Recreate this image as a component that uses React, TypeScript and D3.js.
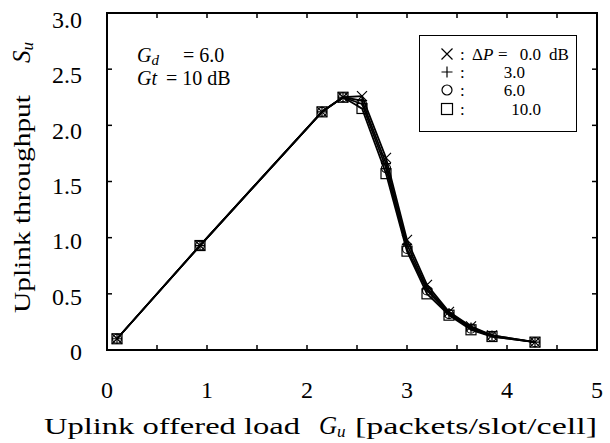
import React from 'react';
import * as d3 from 'd3';

// offered load G_u (shared) and throughput S_u for each delta P
const gu = [0.1, 0.93, 2.15, 2.36, 2.55, 2.79, 3.0, 3.2, 3.42, 3.64, 3.85, 4.28];
const su0 = [0.1, 0.93, 2.12, 2.25, 2.26, 1.71, 0.98, 0.58, 0.34, 0.21, 0.13, 0.07];
const su3 = [0.1, 0.93, 2.12, 2.25, 2.22, 1.66, 0.94, 0.55, 0.33, 0.2, 0.13, 0.07];
const su6 = [0.1, 0.93, 2.12, 2.25, 2.19, 1.62, 0.9, 0.53, 0.32, 0.19, 0.12, 0.07];
const su10 = [0.1, 0.93, 2.12, 2.25, 2.15, 1.57, 0.88, 0.5, 0.31, 0.18, 0.12, 0.07];

const xTickLabels = [0, 1, 2, 3, 4, 5];
const yTickLabels = ['0', '0.5', '1.0', '1.5', '2.0', '2.5', '3.0'];
const legendVals = ['0.0', '3.0', '6.0', '10.0'];

const font = "'Liberation Serif', 'Times New Roman', serif";

const Marker = ({ kind, cx, cy, s = 5 }: { kind: string; cx: number; cy: number; s?: number }) => {
  if (kind === 'x')
    return <path d={`M${cx - s},${cy - s}L${cx + s},${cy + s}M${cx - s},${cy + s}L${cx + s},${cy - s}`} stroke="#000" strokeWidth={1.2} />;
  if (kind === 'plus')
    return <path d={`M${cx - s},${cy}L${cx + s},${cy}M${cx},${cy - s}L${cx},${cy + s}`} stroke="#000" strokeWidth={1.2} />;
  if (kind === 'circle')
    return <circle cx={cx} cy={cy} r={s - 0.5} fill="none" stroke="#000" strokeWidth={1.2} />;
  return <rect x={cx - s} y={cy - s} width={2 * s} height={2 * s} fill="none" stroke="#000" strokeWidth={1.2} />;
};

export default function App() {
  const W = 610, H = 443;
  // the frame stops at 4.9, the "5" label sits on the right edge
  const x = d3.scaleLinear().domain([0, 4.9]).range([107, 597]);
  const y = d3.scaleLinear().domain([0, 3]).range([350, 13]);

  const series = [
    { kind: 'x', su: su0 },
    { kind: 'plus', su: su3 },
    { kind: 'circle', su: su6 },
    { kind: 'square', su: su10 },
  ];

  const line = d3.line<[number, number]>().x(d => x(d[0])).y(d => y(d[1]));

  const xMinor = d3.range(0.5, 4.9, 0.5);
  const yMinor = d3.range(0.5, 3, 0.5);
  const [x0, x1] = x.range();
  const [y0, y1] = y.range();
  const tk = 5;

  return (
    <svg width={W} height={H} style={{ position: 'absolute', left: 0, top: 0, background: '#fff', fontFamily: font }}>
      {/* ticks, pointing inside on all four sides */}
      {xMinor.map(v => (
        <g key={'xt' + v}>
          <line x1={x(v)} x2={x(v)} y1={y0} y2={y0 - tk} stroke="#000" strokeWidth={1.5} />
          <line x1={x(v)} x2={x(v)} y1={y1} y2={y1 + tk} stroke="#000" strokeWidth={1.5} />
        </g>
      ))}
      {yMinor.map(v => (
        <g key={'yt' + v}>
          <line x1={x0} x2={x0 + tk} y1={y(v)} y2={y(v)} stroke="#000" strokeWidth={1.5} />
          <line x1={x1} x2={x1 - tk} y1={y(v)} y2={y(v)} stroke="#000" strokeWidth={1.5} />
        </g>
      ))}
      <rect x={x0} y={y1} width={x1 - x0} height={y0 - y1} fill="none" stroke="#000" strokeWidth={2} />

      {xTickLabels.map(v => (
        <text key={'xl' + v} x={x(Math.min(v, 4.9))} y={398} fontSize={24} textAnchor="middle">{v}</text>
      ))}
      {yTickLabels.map(v => (
        <text key={'yl' + v} x={82} y={y(+v) + 10 + (+v * 5) / 3} fontSize={24} textAnchor="end">{v}</text>
      ))}

      {/* axis titles, wide lettering as in the original */}
      <text x={44} y={434} fontSize={23} textLength={256} lengthAdjust="spacingAndGlyphs">Uplink offered load</text>
      <text x={319} y={434} fontSize={25} fontStyle="italic">
        G<tspan fontSize={17} dy={3}>u</tspan>
      </text>
      <text x={355} y={434} fontSize={23} textLength={242} lengthAdjust="spacingAndGlyphs">[packets/slot/cell]</text>

      <g transform="translate(30,313) rotate(-90)">
        <text x={0} y={0} fontSize={23} textLength={218} lengthAdjust="spacingAndGlyphs">Uplink throughput</text>
        <text x={250} y={0} fontSize={25} fontStyle="italic">
          S<tspan fontSize={17} dy={3}>u</tspan>
        </text>
      </g>

      {/* data */}
      {series.map(s => (
        <path key={'l' + s.kind} d={line(gu.map((g, i) => [g, s.su[i]] as [number, number])) || ''}
          fill="none" stroke="#000" strokeWidth={1.8} strokeLinejoin="round" />
      ))}
      {series.map(s => gu.map((g, i) => (
        <Marker key={s.kind + i} kind={s.kind} cx={x(g)} cy={y(s.su[i])} />
      )))}

      {/* parameter note */}
      <text x={137} y={62} fontSize={20}>
        <tspan fontStyle="italic">G</tspan>
        <tspan fontStyle="italic" fontSize={15} dy={3}>d</tspan>
        <tspan dy={-3} x={183}>= 6.0</tspan>
      </text>
      <text x={137} y={85} fontSize={20}>
        <tspan fontStyle="italic">Gt</tspan>
        <tspan x={166}>= 10 dB</tspan>
      </text>

      {/* legend */}
      <rect x={419.5} y={35.5} width={157} height={96} fill="#fff" stroke="#000" strokeWidth={1} />
      {['x', 'plus', 'circle', 'square'].map((k, i) => {
        const cy = [54, 72, 90, 109][i];
        return (
          <g key={'lg' + k}>
            <Marker kind={k} cx={447} cy={cy} s={5.5} />
            <text x={460} y={cy + 6} fontSize={17}>:</text>
          </g>
        );
      })}
      <text x={472} y={60} fontSize={17}>
        <tspan>Δ</tspan><tspan fontStyle="italic">P</tspan>
        <tspan x={498}>=</tspan>
      </text>
      {legendVals.map((v, i) => (
        <text key={'lv' + v} x={i === 0 || i === 3 ? 541 : 525} y={[60, 78, 96, 115][i]} fontSize={17} textAnchor="end">{v}</text>
      ))}
      <text x={549} y={60} fontSize={17}>dB</text>
    </svg>
  );
}
